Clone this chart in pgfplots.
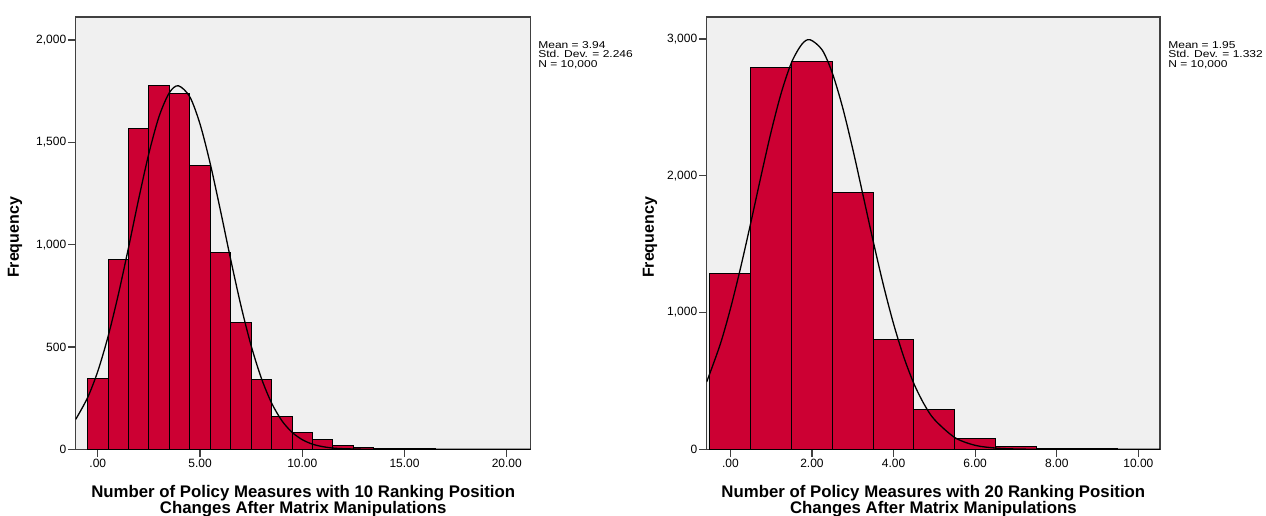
\documentclass[border=0pt]{standalone}
\usepackage{fontspec}
\setmainfont{Liberation Sans}
\usepackage{graphicx}
\usepackage{pgfplots}
\pgfplotsset{compat=1.18}
\definecolor{barred}{RGB}{204,0,51}
\definecolor{bgray}{RGB}{240,240,240}
\definecolor{framegray}{RGB}{64,64,64}
\pgfplotsset{spss/.style={
  scale only axis,
  axis background/.style={fill=bgray},
  axis line style={framegray, line width=0.65pt},
  tick style={framegray, line width=0.6pt},
  major tick length=3.75pt, tick align=outside,
  xtick pos=bottom, ytick pos=left,
  ticklabel style={font=\fontsize{6}{7}\selectfont, inner sep=0.8pt},
  xlabel style={font=\bfseries\fontsize{8.4}{8}\selectfont, align=center,
    at={(axis description cs:0.5,0)}, anchor=north, yshift=-18pt, inner sep=0},
  ylabel style={font=\bfseries\fontsize{8}{9}\selectfont, anchor=center, inner sep=0},
  ymin=0,
}}
\newcommand{\stats}[2]{\scalebox{1.2}[1]{\fontsize{5}{3.95}\selectfont\begin{tabular}{@{}l@{}}Mean = #1\\Std. Dev. = #2\\N = 10,000\end{tabular}}}
\begin{document}
\begin{tikzpicture}
\path[use as bounding box] (0,0) rectangle (633pt,257.5pt);
% ---------------- left histogram
\begin{axis}[spss,
  at={(37.85pt,32.85pt)}, anchor=south west,
  width=227.5pt, height=216.15pt,
  xmin=-1.08, xmax=21.17, ymax=2112,
  xtick={0,5,10,15,20}, xticklabels={.00,5.00,10.00,15.00,20.00},
  ytick={0,500,1000,1500,2000}, yticklabels={0,500,{1,000},{1,500},{2,000}},
  xlabel={Number of Policy Measures with 10 Ranking Position\\Changes After Matrix Manipulations},
  ylabel={Frequency},
  ylabel style={at={(axis description cs:-0.1334,0.49)}},
]
\addplot[ybar interval, fill=barred, draw=black, line width=0.5pt] coordinates {
(-0.5,344)(0.5,926)(1.5,1568)(2.5,1777)(3.5,1740)(4.5,1386)(5.5,960)(6.5,619)
(7.5,343)(8.5,159)(9.5,81)(10.5,47)(11.5,21)(12.5,10)(13.5,6)(14.5,4)(15.5,3)(16.5,0)};
\addplot[black, line width=0.65pt, smooth] coordinates {
(-1.08,146)(-0.5,252)(0,381)(0.5,550)(1,754)(1.5,984)(2,1223)(2.5,1446)(3,1627)
(3.5,1742)(3.94,1776)(4.5,1722)(5,1589)(5.5,1395)(6,1166)(6.5,927)(7,702)(7.5,506)
(8,347)(8.5,226)(9,140)(9.5,83)(10,47)(10.5,25)(11,13)(11.5,6)(12,3)(13,0.5)(14,0.1)(16,0)(21.17,0)};
\end{axis}
\node[anchor=north west, inner sep=0] at (269pt,237pt) {\stats{3.94}{2.246}};
% ---------------- right histogram
\begin{axis}[spss,
  at={(353.35pt,32.85pt)}, anchor=south west,
  width=226.65pt, height=216.15pt,
  xmin=-0.58, xmax=10.53, ymax=3161,
  xtick={0,2,4,6,8,10}, xticklabels={.00,2.00,4.00,6.00,8.00,10.00},
  ytick={0,1000,2000,3000}, yticklabels={0,{1,000},{2,000},{3,000}},
  xlabel={Number of Policy Measures with 20 Ranking Position\\Changes After Matrix Manipulations},
  ylabel={Frequency},
  ylabel style={at={(axis description cs:-0.1251,0.49)}},
]
\addplot[ybar interval, fill=barred, draw=black, line width=0.5pt] coordinates {
(-0.5,1287)(0.5,2795)(1.5,2834)(2.5,1881)(3.5,801)(4.5,291)(5.5,81)(6.5,20)(7.5,7)(8.5,3)(9.5,0)};
\addplot[black, line width=0.65pt, smooth] coordinates {
(-0.58,493)(-0.25,766)(0,1026)(0.25,1327)(0.5,1656)(0.75,1996)(1,2323)(1.25,2609)
(1.5,2829)(1.75,2961)(1.95,2995)(2.25,2920)(2.5,2750)(2.75,2501)(3,2195)(3.25,1860)
(3.5,1522)(3.75,1202)(4,917)(4.25,675)(4.5,479)(4.75,329)(5,218)(5.5,86)(6,29)
(6.5,9)(7,2.3)(7.5,0.5)(8,0.1)(9,0)(10.53,0)};
\end{axis}
\node[anchor=north west, inner sep=0] at (584pt,237pt) {\stats{1.95}{1.332}};
\end{tikzpicture}
\end{document}
